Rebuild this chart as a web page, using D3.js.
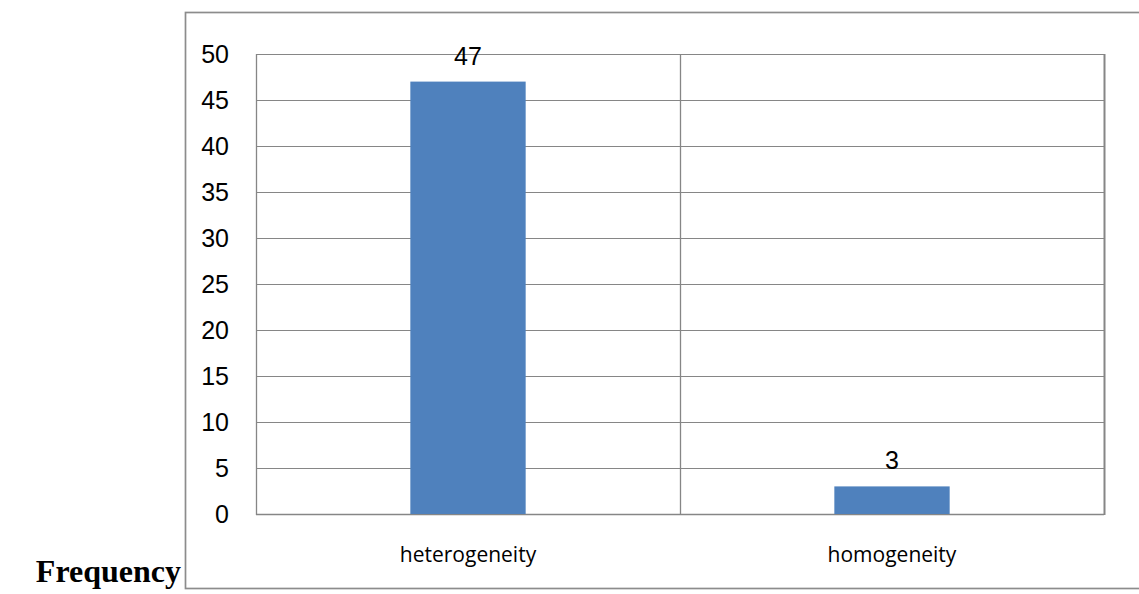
<!DOCTYPE html>
<html>
<head>
<meta charset="utf-8">
<script src="https://cdn.jsdelivr.net/npm/d3@7"></script>
<style>
  html, body { margin: 0; padding: 0; background: #fff; }
  svg { display: block; }
</style>
</head>
<body>
<svg id="chart" width="1139" height="594"></svg>
<script>
// Data
const categories = ["heterogeneity", "homogeneity"];
const values = [47, 3];
const yTicks = [0, 5, 10, 15, 20, 25, 30, 35, 40, 45, 50];
const axisTitle = "Frequency";

const svg = d3.select("#chart");

// Outer chart frame (its right edge runs past the page)
const frame = { left: 185, top: 12, right: 1150, bottom: 588 };
// Plot area
const plot = { left: 256, top: 54, right: 1104, bottom: 514 };

const x = d3.scaleBand()
  .domain(categories)
  .range([plot.left, plot.right])
  .paddingInner(0)
  .paddingOuter(0);

const y = d3.scaleLinear()
  .domain([0, 50])
  .range([plot.bottom, plot.top]);

const gridColor = "#868686";
const rows = categories.map((c, i) => ({ c, v: values[i] }));

// Frame
svg.append("rect")
  .attr("x", frame.left + 0.5)
  .attr("y", frame.top + 0.5)
  .attr("width", frame.right - frame.left)
  .attr("height", frame.bottom - frame.top)
  .attr("fill", "none")
  .attr("stroke", "#8c8c8c")
  .attr("stroke-width", 1.7);

// Horizontal gridlines
svg.append("g")
  .selectAll("line")
  .data(yTicks)
  .join("line")
  .attr("x1", plot.left)
  .attr("x2", plot.right)
  .attr("y1", d => Math.round(y(d)) + 0.5)
  .attr("y2", d => Math.round(y(d)) + 0.5)
  .attr("stroke", gridColor)
  .attr("stroke-width", d => d === 0 ? 1.6 : 1);

// Vertical lines at category boundaries
const boundaries = [plot.left, ...categories.map(c => x(c) + x.bandwidth())];
svg.append("g")
  .selectAll("line")
  .data(boundaries)
  .join("line")
  .attr("x1", d => Math.round(d) + 0.5)
  .attr("x2", d => Math.round(d) + 0.5)
  .attr("y1", plot.top)
  .attr("y2", plot.bottom + 1)
  .attr("stroke", gridColor)
  .attr("stroke-width", (d, i) => i === boundaries.length - 1 ? 2 : 1.3);

// Bars
const barW = x.bandwidth() * 0.272;
svg.append("g")
  .selectAll("rect")
  .data(rows)
  .join("rect")
  .attr("x", d => x(d.c) + x.bandwidth() / 2 - barW / 2)
  .attr("y", d => y(d.v))
  .attr("width", barW)
  .attr("height", d => y(0) - y(d.v))
  .attr("fill", "#4f81bd");

// Value labels
svg.append("g")
  .selectAll("text")
  .data(rows)
  .join("text")
  .attr("x", d => x(d.c) + x.bandwidth() / 2)
  .attr("y", d => y(d.v) - 17)
  .attr("text-anchor", "middle")
  .attr("font-family", "'Liberation Sans', Arial, sans-serif")
  .attr("font-size", 25)
  .attr("fill", "#000")
  .text(d => d.v);

// Y tick labels
svg.append("g")
  .selectAll("text")
  .data(yTicks)
  .join("text")
  .attr("x", 229)
  .attr("y", d => y(d))
  .attr("dy", "0.36em")
  .attr("text-anchor", "end")
  .attr("font-family", "'Liberation Sans', Arial, sans-serif")
  .attr("font-size", 25)
  .attr("fill", "#000")
  .text(d => d);

// Category labels
svg.append("g")
  .selectAll("text")
  .data(categories)
  .join("text")
  .attr("x", d => x(d) + x.bandwidth() / 2)
  .attr("y", 562)
  .attr("text-anchor", "middle")
  .attr("font-family", "'Open Sans', 'Noto Sans', sans-serif")
  .attr("font-size", 21)
  .attr("fill", "#000")
  .text(d => d);

// Axis title
svg.append("text")
  .attr("x", 181)
  .attr("y", 582)
  .attr("text-anchor", "end")
  .attr("font-family", "'Liberation Serif', 'Times New Roman', serif")
  .attr("font-weight", "bold")
  .attr("font-size", 32)
  .attr("fill", "#000")
  .text(axisTitle);
</script>
</body>
</html>
